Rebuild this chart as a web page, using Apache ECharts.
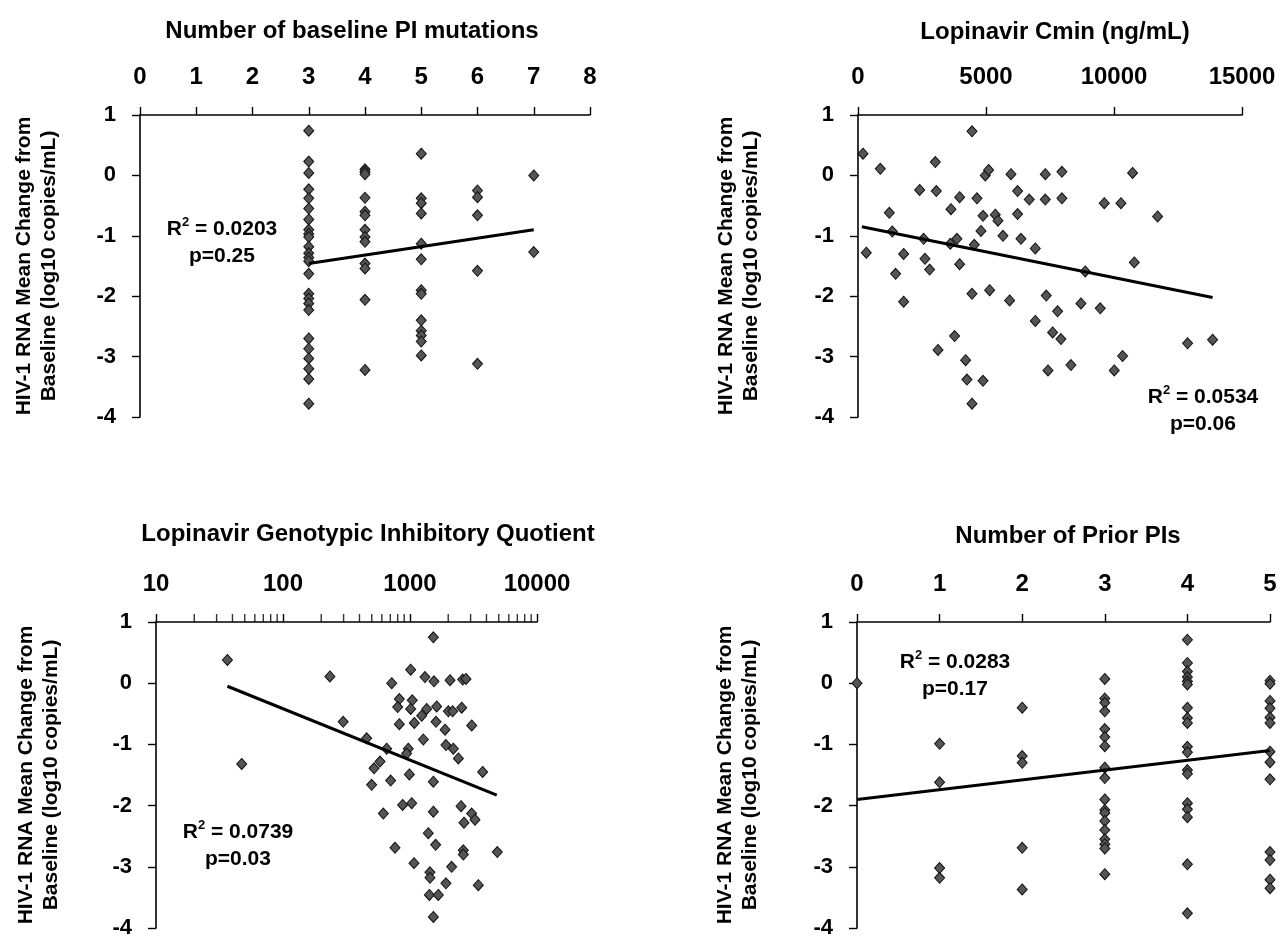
<!DOCTYPE html>
<html><head><meta charset="utf-8">
<script src="https://cdn.jsdelivr.net/npm/echarts@6/dist/echarts.min.js"></script>
<style>html,body{margin:0;padding:0;background:#fff}#c{width:1280px;height:939px}</style>
</head><body><div id="c"></div>
<script>
// ---------- Panel 1: Number of baseline PI mutations ----------
const mutLevels = [3, 4, 5, 6, 7];
const mut3 = [0.74, 0.23, 0.04, -0.23, -0.38, -0.55, -0.73, -0.9, -0.97, -1.02, -1.18, -1.29, -1.36, -1.42, -1.63, -1.96, -2.04, -2.12, -2.23, -2.7, -2.87, -3.03, -3.2, -3.37, -3.78];
const mut4 = [0.1, 0.06, 0.02, -0.37, -0.6, -0.66, -0.9, -1.02, -1.1, -1.46, -1.54, -2.06, -3.22];
const mut5 = [0.36, -0.38, -0.46, -0.63, -1.13, -1.39, -1.9, -1.96, -2.4, -2.57, -2.65, -2.75, -2.98];
const mut6 = [-0.25, -0.36, -0.66, -1.58, -3.12];
const mut7 = [0.0, -1.27];
const mutTrendX = [3, 7];
const mutTrendY = [-1.46, -0.9];

// ---------- Panel 2: Lopinavir Cmin ----------
const cminX = [195, 324, 871, 1223, 1340, 1470, 1783, 1783, 2408, 2564, 2616, 2798, 3020, 3059, 3125, 3605, 3631, 3774, 3865, 3970, 3970, 4204, 4256, 4453, 4453, 4453, 4543, 4648, 4804, 4883, 4883, 4973, 5103, 5142, 5363, 5467, 5663, 5923, 5975, 6235, 6235, 6366, 6691, 6925, 6925, 7316, 7316, 7355, 7421, 7602, 7797, 7927, 7966, 7966, 8318, 8708, 8877, 9463, 9619, 10010, 10271, 10336, 10726, 10792, 11703, 12875, 13851];
const cminY = [0.36, -1.28, 0.11, -0.62, -0.93, -1.63, -1.3, -2.09, -0.24, -1.05, -1.38, -1.56, 0.22, -0.26, -2.89, -1.13, -0.56, -2.66, -1.05, -0.36, -1.47, -3.06, -3.38, 0.73, -1.96, -3.78, -1.15, -0.38, -0.92, -0.67, -3.4, 0.0, 0.09, -1.9, -0.65, -0.75, -1.0, -2.07, 0.02, -0.26, -0.64, -1.05, -0.4, -1.21, -2.41, 0.02, -0.4, -1.99, -3.23, -2.6, -2.25, -2.71, 0.06, -0.38, -3.14, -2.12, -1.59, -2.2, -0.46, -3.23, -0.46, -2.99, 0.04, -1.44, -0.68, -2.78, -2.72];
const cminTrendX = [150, 13850];
const cminTrendY = [-0.85, -2.02];

// ---------- Panel 3: Lopinavir Genotypic Inhibitory Quotient ----------
const giqX = [36.5, 47.3, 234, 298, 456, 655, 581, 521, 499, 704, 617, 718, 1012, 824, 800, 824, 1042, 1012, 1081, 1236, 1353, 1312, 1545, 1622, 1603, 1888, 2066, 2600, 2760, 2006, 2168, 2553, 3060, 1274, 969, 941, 1919, 2193, 2404, 3733, 988, 1527, 875, 1031, 1527, 2523, 3060, 3250, 2661, 1393, 1593, 762, 2630, 2630, 4870, 1075, 2128, 1436, 1436, 1919, 3450, 1420, 1670, 1527, 1527];
const giqY = [0.38, -1.32, 0.11, -0.63, -0.9, -1.07, -1.28, -1.39, -1.66, -1.59, -2.13, 0.0, 0.22, -0.26, -0.39, -0.67, -0.28, -0.42, -0.65, -0.53, -0.42, 0.1, 0.03, -0.38, -0.63, -0.76, 0.05, 0.06, 0.07, -0.46, -0.46, -0.4, -0.69, -0.92, -1.07, -1.15, -1.01, -1.07, -1.23, -1.45, -1.49, -1.61, -1.99, -1.96, -2.1, -2.01, -2.13, -2.23, -2.28, -2.45, -2.64, -2.69, -2.73, -2.8, -2.76, -2.94, -3.0, -3.09, -3.18, -3.27, -3.3, -3.46, -3.46, -3.82, 0.75];
const giqTrendX = [36.5, 4820];
const giqTrendY = [-0.05, -1.83];
const giqMinorTicks = [20, 30, 40, 50, 60, 70, 80, 90, 200, 300, 400, 500, 600, 700, 800, 900, 2000, 3000, 4000, 5000, 6000, 7000, 8000, 9000];

// ---------- Panel 4: Number of Prior PIs ----------
const priorLevels = [0, 1, 2, 3, 4, 5];
const prior0 = [0.0];
const prior1 = [-0.99, -1.62, -3.02, -3.18];
const prior2 = [-0.4, -1.19, -1.3, -2.69, -3.37];
const prior3 = [0.07, -0.25, -0.32, -0.46, -0.75, -0.88, -1.03, -1.38, -1.55, -1.9, -2.07, -2.12, -2.25, -2.4, -2.55, -2.63, -2.7, -3.12];
const prior4 = [0.71, 0.33, 0.19, 0.1, 0.03, -0.02, -0.4, -0.57, -0.65, -1.04, -1.13, -1.42, -1.48, -1.96, -2.06, -2.19, -2.96, -3.76];
const prior5 = [0.04, -0.01, -0.29, -0.41, -0.56, -0.65, -1.12, -1.29, -1.57, -2.76, -2.89, -3.21, -3.35];
const priorTrendX = [0, 5];
const priorTrendY = [-1.9, -1.1];

// ---------- Text ----------
const panelTitles = ['Number of baseline PI mutations', 'Lopinavir Cmin (ng/mL)', 'Lopinavir Genotypic Inhibitory Quotient', 'Number of Prior PIs'];
const yName = 'HIV-1 RNA Mean Change from\nBaseline (log10 copies/mL)';
const r2Values = ['0.0203', '0.0534', '0.0739', '0.0283'];
const pValues = ['0.25', '0.06', '0.03', '0.17'];
const yTickRange = [-4, 1];

// ---------- Build ----------
const FONT = '"Liberation Sans", Arial, Helvetica, sans-serif';
const groupPairs = (levels, groups) => levels.flatMap((lv, i) => groups[i].map(v => [lv, v]));
const zipPairs = (xs, ys) => xs.map((x, i) => [x, ys[i]]);

const p1 = groupPairs(mutLevels, [mut3, mut4, mut5, mut6, mut7]);
const p2 = zipPairs(cminX, cminY);
const p3 = zipPairs(giqX, giqY);
const p4 = groupPairs(priorLevels, [prior0, prior1, prior2, prior3, prior4, prior5]);

const grids = [
  {left: 140, top: 115, width: 450, height: 302},
  {left: 858, top: 115, width: 384, height: 302},
  {left: 156, top: 622, width: 381, height: 308},
  {left: 857, top: 622, width: 413, height: 308}
];

const axisLine = {show: true, onZero: false, lineStyle: {color: '#000', width: 1.6}};
const axisTick = {show: true, length: 8, lineStyle: {color: '#000', width: 1.4}};
const xLabelStyle = {color: '#000', fontSize: 24, fontWeight: 'bold', fontFamily: FONT};
const yLabelStyle = {color: '#000', fontSize: 22, fontWeight: 'bold', fontFamily: FONT};

function xAx(i, extra) {
  return Object.assign({
    gridIndex: i, type: 'value', position: 'top',
    axisLine, axisTick, splitLine: {show: false},
    axisLabel: Object.assign({margin: 26, formatter: v => String(v)}, xLabelStyle)
  }, extra);
}
const nameGaps = [78, 94, 92, 94];
function yAx(i) {
  return {
    gridIndex: i, type: 'value', min: yTickRange[0], max: yTickRange[1], interval: 1,
    axisLine, axisTick, splitLine: {show: false},
    axisLabel: Object.assign({margin: 24, formatter: v => String(v)}, yLabelStyle),
    name: yName, nameLocation: 'middle', nameRotate: 90, nameGap: nameGaps[i],
    nameTextStyle: {color: '#000', fontSize: 21, fontWeight: 'bold', fontFamily: FONT, lineHeight: 25, align: 'center'}
  };
}

function scatter(i, data) {
  return {type: 'scatter', xAxisIndex: i, yAxisIndex: i, data, symbol: 'diamond', symbolSize: [10, 11],
    itemStyle: {color: '#555', borderColor: '#111', borderWidth: 1, opacity: 1}, z: 3, clip: false, silent: true};
}
function trend(i, xs, ys) {
  return {type: 'line', xAxisIndex: i, yAxisIndex: i, data: zipPairs(xs, ys), symbol: 'none',
    lineStyle: {color: '#000', width: 3}, z: 4, silent: true};
}

const titleCenters = [[347, 14], [1050, 15], [363, 517], [1063, 519]];
const r2Pos = [[217, 211], [1198, 379], [233, 814], [950, 644]];
const titleStyle = {color: '#000', fontSize: 24, fontWeight: 'bold', fontFamily: FONT};
const richStyle = {
  a: {color: '#000', fontSize: 21, fontWeight: 'bold', fontFamily: FONT, lineHeight: 27},
  s: {color: '#000', fontSize: 13, fontWeight: 'bold', fontFamily: FONT, lineHeight: 16, verticalAlign: 'top'}
};

const titles = panelTitles.map((t, i) => ({text: t, left: titleCenters[i][0], top: titleCenters[i][1], textAlign: 'center', textStyle: titleStyle}))
  .concat(r2Values.map((r, i) => ({
    text: '{a|R}{s|2}{a| = ' + r + '}\n{a|p=' + pValues[i] + '}',
    left: r2Pos[i][0], top: r2Pos[i][1], textAlign: 'center',
    textStyle: {rich: richStyle, align: 'center'}
  })));

const option = {
  animation: false,
  backgroundColor: '#fff',
  title: titles,
  grid: grids,
  xAxis: [
    xAx(0, {min: 0, max: 8, interval: 1}),
    xAx(1, {min: 0, max: 15000, interval: 5000}),
    xAx(2, {type: 'log', logBase: 10, min: 10, max: 10000, splitNumber: 3}),
    xAx(3, {min: 0, max: 5, interval: 1})
  ],
  yAxis: [yAx(0), yAx(1), yAx(2), yAx(3)],
  series: [
    scatter(0, p1), trend(0, mutTrendX, mutTrendY),
    scatter(1, p2), trend(1, cminTrendX, cminTrendY),
    scatter(2, p3), trend(2, giqTrendX, giqTrendY),
    scatter(3, p4), trend(3, priorTrendX, priorTrendY),
    {type: 'scatter', xAxisIndex: 2, yAxisIndex: 2, data: giqMinorTicks.map(v => [v, yTickRange[1]]),
     symbol: 'rect', symbolSize: [1.4, 8], symbolOffset: [0, -4], itemStyle: {color: '#000'}, clip: false, silent: true, z: 5}
  ]
};
const chart = echarts.init(document.getElementById('c'), null, {renderer: 'canvas'});
chart.setOption(option);
</script>
</body></html>
